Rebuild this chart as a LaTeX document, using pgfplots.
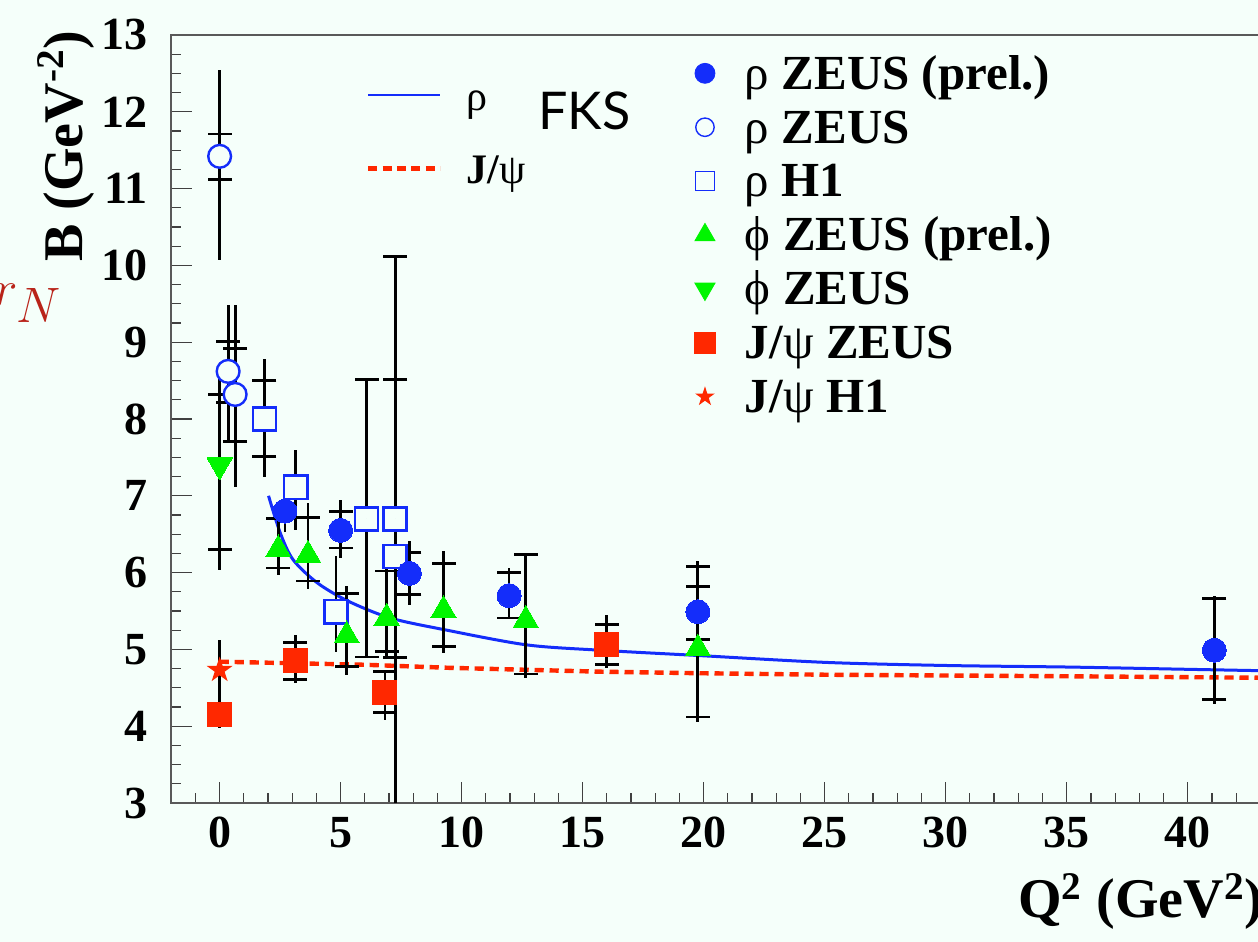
\documentclass[border=0pt]{standalone}
\usepackage{fontspec}
\setmainfont{Liberation Serif}
\newfontfamily\fks{Lato}
\usepackage{pgfplots}
\pgfplotsset{compat=1.18}
\usepackage{pgfplotstable}
\definecolor{bgcol}{RGB}{245,255,250}
\definecolor{rblue}{RGB}{20,45,250}
\definecolor{rgreen}{RGB}{0,245,0}
\definecolor{rred}{RGB}{255,40,0}
\definecolor{darkred}{RGB}{185,35,25}

\pgfdeclareplotmark{fstar}{%
  \pgfpathmoveto{\pgfpointpolar{90}{\pgfplotmarksize}}%
  \pgfpathlineto{\pgfpointpolar{126}{0.382\pgfplotmarksize}}%
  \pgfpathlineto{\pgfpointpolar{162}{\pgfplotmarksize}}%
  \pgfpathlineto{\pgfpointpolar{198}{0.382\pgfplotmarksize}}%
  \pgfpathlineto{\pgfpointpolar{234}{\pgfplotmarksize}}%
  \pgfpathlineto{\pgfpointpolar{270}{0.382\pgfplotmarksize}}%
  \pgfpathlineto{\pgfpointpolar{306}{\pgfplotmarksize}}%
  \pgfpathlineto{\pgfpointpolar{342}{0.382\pgfplotmarksize}}%
  \pgfpathlineto{\pgfpointpolar{18}{\pgfplotmarksize}}%
  \pgfpathlineto{\pgfpointpolar{54}{0.382\pgfplotmarksize}}%
  \pgfpathclose
  \pgfusepathqfill}

% error lines: x y plus minus
\pgfplotstableread{
x y op om
0 11.42 1.13 1.35
0.35 8.62 0.87 0.89
0.64 8.32 1.17 1.20
0 7.40 1.22 1.36
1.85 8.0 0.78 0.75
3.14 7.11 0.49 0.56
2.70 6.80 0.15 0.27
2.42 6.30 0.45 0.33
3.65 6.23 0.68 0.45
5.0 6.55 0.40 0.36
4.81 5.49 0.72 0.52
5.25 5.18 0.64 0.51
6.9 5.41 0.69 0.51
6.83 4.44 0.27 0.36
3.12 4.85 0.34 0.29
0 4.15 0.41 0.17
0 4.73 0.39 0.17
7.84 5.99 0.42 0.41
9.25 5.51 0.77 0.56
11.96 5.70 0.36 0.31
12.65 5.38 0.86 0.75
16.0 5.06 0.39 0.30
19.76 5.49 0.35 0.36
19.76 5.01 1.14 0.95
41.1 4.99 0.70 0.70
}\errlines

\pgfplotstableread{
x y op om
6.07 6.70 1.81 1.80
7.25 6.70 3.42 4.20
}\biglines

% error bar caps: x y
\pgfplotstableread{
x y
0 11.71
0 11.12
0.35 9.01
0.35 8.21
0.64 8.92
0.64 7.71
0 8.32
0 6.30
1.85 8.50
1.85 7.51
2.42 6.70
2.42 6.06
3.65 6.72
3.65 5.89
5.0 6.80
5.0 6.32
5.25 5.73
5.25 4.78
6.07 8.51
6.07 4.90
7.25 10.12
7.25 8.51
7.25 4.89
6.9 6.02
6.9 4.97
6.83 4.71
6.83 4.18
3.12 5.09
3.12 4.61
7.84 6.26
7.84 5.72
9.25 6.12
9.25 5.04
11.96 6.00
11.96 5.41
12.65 6.24
12.65 4.68
16.0 5.32
16.0 4.80
19.76 5.82
19.76 5.13
19.76 6.08
19.76 4.12
41.1 5.66
41.1 4.35
}\caps

\pgfplotsset{geom/.style={scale only axis, width=550.7pt, height=384pt,
  xmin=-2.01, xmax=43.5, ymin=3, ymax=13,
  at={(85.5pt,69.5pt)}, anchor=south west},
  errstyle/.style={only marks, mark size=0pt, mark options={draw=none, fill=none}, forget plot,
  error bars/.cd, y dir=both, y explicit, error mark=none,
  error bar style={draw=black, line width=1.4pt, solid}}}

\begin{document}
\begin{tikzpicture}
\fill[bgcol] (0,0) rectangle (629pt,471pt);
\useasboundingbox (0,0) rectangle (629pt,471pt);

% curves with line legend
\begin{axis}[geom, hide axis,
  legend cell align=left,
  legend image code/.code={\draw[#1] (0pt,0pt) -- (36pt,0pt);},
  legend style={at={(0.1770,0.9466)}, anchor=north west, draw=none, fill=none,
    inner sep=0pt, outer sep=0pt, row sep=17.65pt,
    font=\fontsize{21}{21}\selectfont\bfseries,
    nodes={inner sep=0pt, text height=17pt, text depth=2pt},
    /tikz/every odd column/.append style={column sep=12pt}}]
\addplot[rblue, line width=1.5pt, smooth, forget plot] coordinates {
(2.02,7.0) (2.5,6.52) (3.03,6.17) (4.02,5.87) (5.3,5.63) (7.04,5.41)
(9.23,5.26) (12.66,5.06) (15.68,4.99) (19.8,4.92) (25.1,4.83) (30.1,4.79)
(35.1,4.77) (40.1,4.74) (43.5,4.72)};
\addplot[rred, line width=2.2pt, dash pattern=on 4.6pt off 2.9pt, forget plot] coordinates {
(0,4.84) (3,4.82) (6,4.80) (9.5,4.76) (15.7,4.71) (19.8,4.69) (25.1,4.67)
(35.1,4.65) (43.5,4.63)};
\addlegendimage{rblue, line width=1.4pt}
\addlegendentry{{\mdseries ρ}}
\addlegendimage{rred, line width=2.2pt, dash pattern=on 4.5pt off 2.7pt}
\addlegendentry{J/{\mdseries ψ}}
\end{axis}

\begin{axis}[geom,
  axis line style={black!65, line width=1pt},
  tick style={black!75, line width=0.6pt},
  tick align=inside,
  xtick pos=left, ytick pos=left,
  xtick distance=5, ytick distance=1,
  minor x tick num=4, minor y tick num=3,
  major tick length=10.5pt, minor tick length=5.2pt,
  /pgf/number format/assume math mode=true,
  ticklabel style={font=\fontsize{23}{23}\selectfont\bfseries, inner sep=0pt},
  xticklabel shift=7pt, yticklabel shift=11.5pt,
  xlabel={Q\textsuperscript{2} (GeV\textsuperscript{2})},
  ylabel={B (GeV\textsuperscript{-2})},
  label style={font=\fontsize{28}{28}\selectfont\bfseries, inner sep=0pt},
  xlabel style={at={(axis description cs:0.769,-0.1497)}, anchor=base west},
  ylabel style={at={(axis description cs:-0.0808,1.0065)}, anchor=base east},
  legend cell align=left,
  legend image code/.code={\path[draw=none, fill=none] (-6pt,-6pt) rectangle (6pt,6pt); \draw[#1] plot coordinates {(0pt,0pt)};},
  legend style={at={(0.4739,0.979)}, anchor=north west, draw=none, fill=none,
    inner sep=0pt, outer sep=0pt, row sep=4.75pt,
    font=\fontsize{24.5}{25}\selectfont\bfseries,
    nodes={inner sep=0pt, text height=19pt, text depth=3.2pt},
    /tikz/every odd column/.append style={column sep=14pt}}]

% error lines and caps
\addplot[errstyle] table[x=x, y=y, y error plus=op, y error minus=om] {\errlines};
\addplot[only marks, mark=-, mark size=6pt, forget plot,
  mark options={draw=black, line width=1.4pt}] table[x=x,y=y] {\caps};

% markers
\addplot[only marks, mark=square*, mark size=5.8pt, forget plot,
  mark options={draw=rblue, fill=bgcol, line width=1.3pt}] coordinates {
(1.85,8.0) (3.14,7.11) (4.81,5.49) (6.07,6.70) (7.25,6.70) (7.25,6.21)};
\addplot[only marks, mark=*, mark size=5.7pt, forget plot,
  mark options={draw=rblue, fill=bgcol, line width=1.2pt}] coordinates {
(0,11.42) (0.35,8.62) (0.64,8.32)};
\addplot[only marks, mark=triangle*, mark size=7.3pt, forget plot,
  mark options={draw=rgreen, fill=rgreen, line width=0pt}] coordinates {
(2.42,6.30) (3.65,6.23) (5.25,5.18) (6.9,5.41) (9.25,5.51) (12.65,5.38) (19.76,5.01)};
\addplot[only marks, mark=triangle*, mark size=7.3pt, forget plot,
  mark options={draw=rgreen, fill=rgreen, line width=0pt, rotate=180}] coordinates {
(0,7.40)};
\addplot[only marks, mark=square*, mark size=6pt, forget plot,
  mark options={draw=rred, fill=rred, line width=0pt}] coordinates {
(0,4.15) (3.12,4.85) (6.83,4.44) (16.0,5.06)};
\addplot[only marks, mark=fstar, mark size=6.8pt, forget plot,
  mark options={fill=rred}] coordinates {(0,4.73)};
\addplot[only marks, mark=*, mark size=6pt, forget plot,
  mark options={draw=rblue, fill=rblue, line width=0pt}] coordinates {
(2.70,6.80) (5.0,6.55) (7.84,5.99) (11.96,5.70) (19.76,5.49) (41.1,4.99)};

% long error lines drawn over the squares
\addplot[errstyle] table[x=x, y=y, y error plus=op, y error minus=om] {\biglines};

% legend
\addlegendimage{only marks, mark=*, mark size=5pt, draw=rblue, fill=rblue}
\addlegendentry{{\mdseries ρ} ZEUS (prel.)}
\addlegendimage{only marks, mark=o, mark size=4.6pt, draw=rblue, line width=0.7pt}
\addlegendentry{{\mdseries ρ} ZEUS}
\addlegendimage{only marks, mark=square, mark size=4.8pt, draw=rblue, line width=0.7pt}
\addlegendentry{{\mdseries ρ} H1}
\addlegendimage{only marks, mark=triangle*, mark size=5.8pt, draw=rgreen, fill=rgreen}
\addlegendentry{{\mdseries ϕ} ZEUS (prel.)}
\addlegendimage{only marks, mark=triangle*, mark size=5.8pt, draw=rgreen, fill=rgreen, mark options={rotate=180}}
\addlegendentry{{\mdseries ϕ} ZEUS}
\addlegendimage{only marks, mark=square*, mark size=5.2pt, draw=rred, fill=rred}
\addlegendentry{J/{\mdseries ψ} ZEUS}
\addlegendimage{only marks, mark=fstar, mark size=5.2pt, draw=rred, fill=rred}
\addlegendentry{J/{\mdseries ψ} H1}
\end{axis}

\node[anchor=base west, inner sep=0pt, font=\fks\fontsize{26}{26}\selectfont] at (269pt,406pt) {FKS};
\node[anchor=base east, inner sep=0pt, text=darkred, font=\fontsize{34}{34}\selectfont] at (31pt,318pt) {$r_N$};
\end{tikzpicture}
\end{document}
